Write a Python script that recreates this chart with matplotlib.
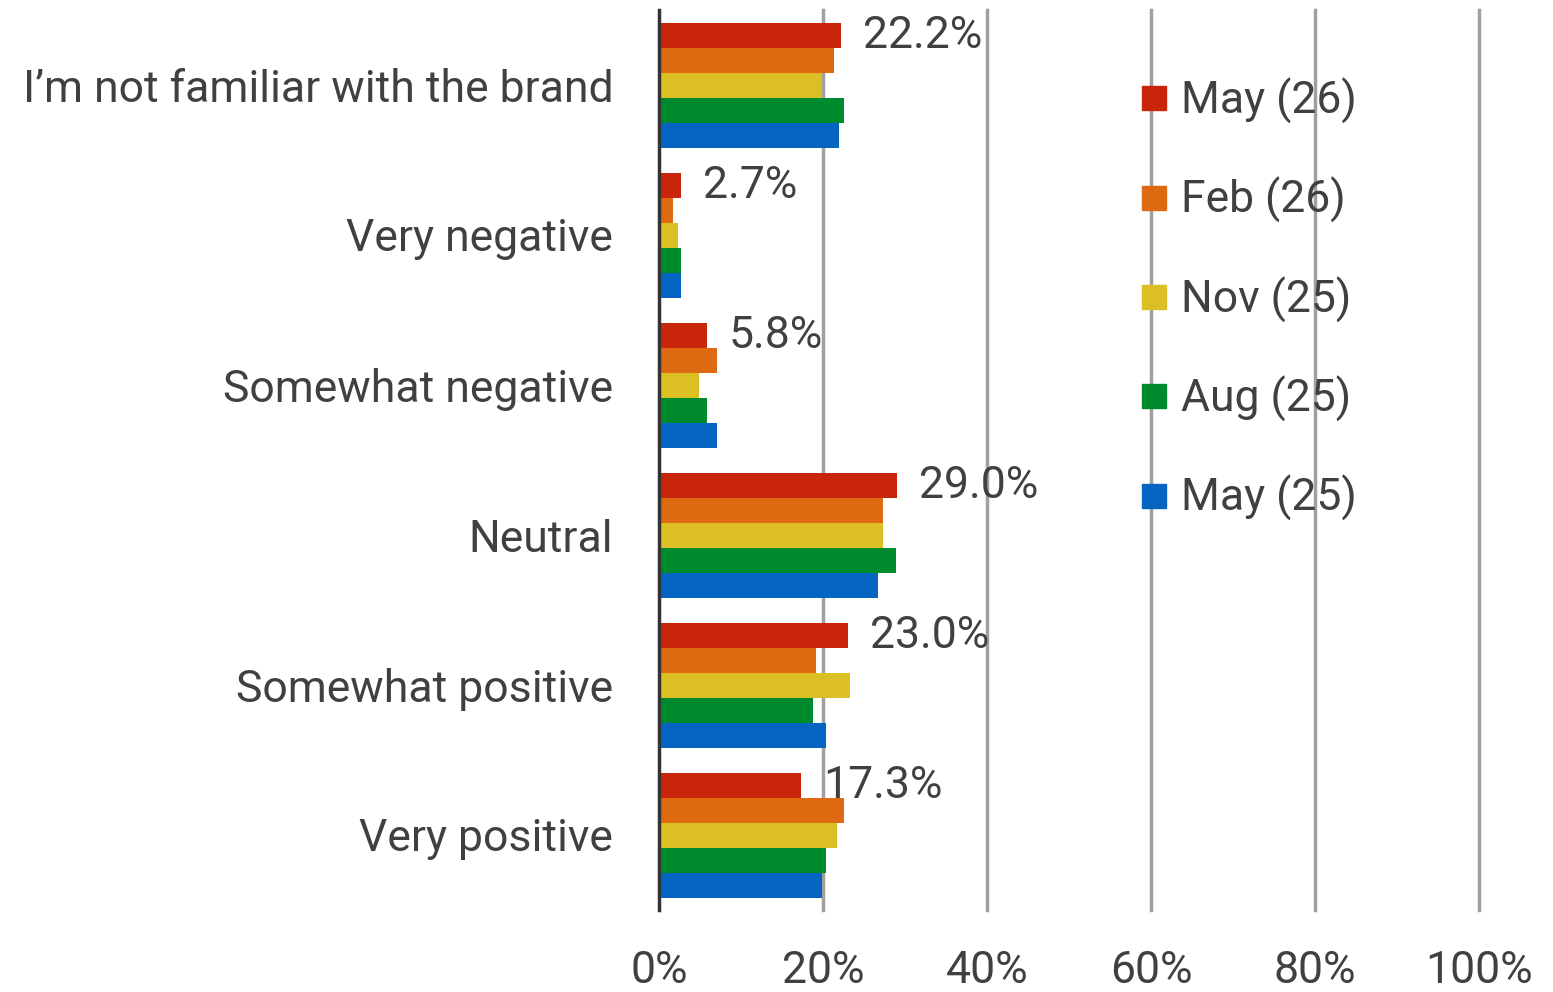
import matplotlib
matplotlib.use("Agg")
import matplotlib.pyplot as plt
from matplotlib.lines import Line2D
import numpy as np

# Data (percent of respondents)
categories = ["I\u2019m not familiar with the brand", "Very negative", "Somewhat negative",
              "Neutral", "Somewhat positive", "Very positive"]
series_names = ["May (26)", "Feb (26)", "Nov (25)", "Aug (25)", "May (25)"]
may26 = [22.2, 2.7, 5.8, 29.0, 23.0, 17.3]
feb26 = [21.3, 1.7, 7.1, 27.3, 19.1, 22.6]
nov25 = [19.9, 2.3, 4.9, 27.3, 23.3, 21.7]
aug25 = [22.6, 2.7, 5.9, 28.9, 18.8, 20.4]
may25 = [22.0, 2.7, 7.1, 26.7, 20.4, 19.9]
series = [may26, feb26, nov25, aug25, may25]
colors = ["#C8250A", "#DD6A10", "#DCBE25", "#008A2E", "#0565C0"]
x_ticks = [0, 20, 40, 60, 80, 100]

text_color = "#404040"
fs = 32
plt.rcParams['font.family'] = ['Roboto', 'DejaVu Sans']

fig = plt.figure(figsize=(15.53, 9.92), dpi=100)
ax = fig.add_axes([659 / 1553, 1 - 910 / 992, 820 / 1553, 900 / 992])

y = np.arange(len(categories))
h = 1 / 6
for i, (vals, c, name) in enumerate(zip(series, colors, series_names)):
    ax.barh(y + (i - 2) * h, vals, height=h, color=c, label=name, zorder=3)

# value labels for the latest wave only
for yi, v in zip(y, may26):
    ax.text(v + 2.7, yi - 2 * h + 0.01, f"{v:.1f}%", fontsize=fs, color=text_color,
            va="center", ha="left", zorder=5)

ax.set_xlim(0, 100)
ax.set_ylim(len(categories) - 0.5, -0.5)
ax.set_xticks(x_ticks)
ax.set_xticklabels([f"{t}%" for t in x_ticks])
ax.set_yticks(y)
ax.set_yticklabels(categories)
ax.tick_params(axis="x", length=0, pad=29, labelsize=fs, labelcolor=text_color)
ax.tick_params(axis="y", length=0, pad=33, labelsize=fs, labelcolor=text_color)

for t in x_ticks[1:]:
    ax.axvline(t, color="#A0A0A0", lw=2.5, zorder=1, clip_on=False)
for s in ["top", "right", "bottom"]:
    ax.spines[s].set_visible(False)
ax.spines["left"].set_color("#333333")
ax.spines["left"].set_linewidth(2.5)
ax.spines["left"].set_zorder(4)

handles = [Line2D([], [], marker="s", linestyle="none", markersize=17, color=c) for c in colors]
leg = ax.legend(handles, series_names, loc="upper left", bbox_to_anchor=(1092 / 1553, 1 - 38 / 992),
                bbox_transform=fig.transFigure, frameon=False, fontsize=fs, labelcolor=text_color,
                labelspacing=1.2, handletextpad=0.1, handlelength=1.0)

fig.savefig("out.png", dpi=100)
